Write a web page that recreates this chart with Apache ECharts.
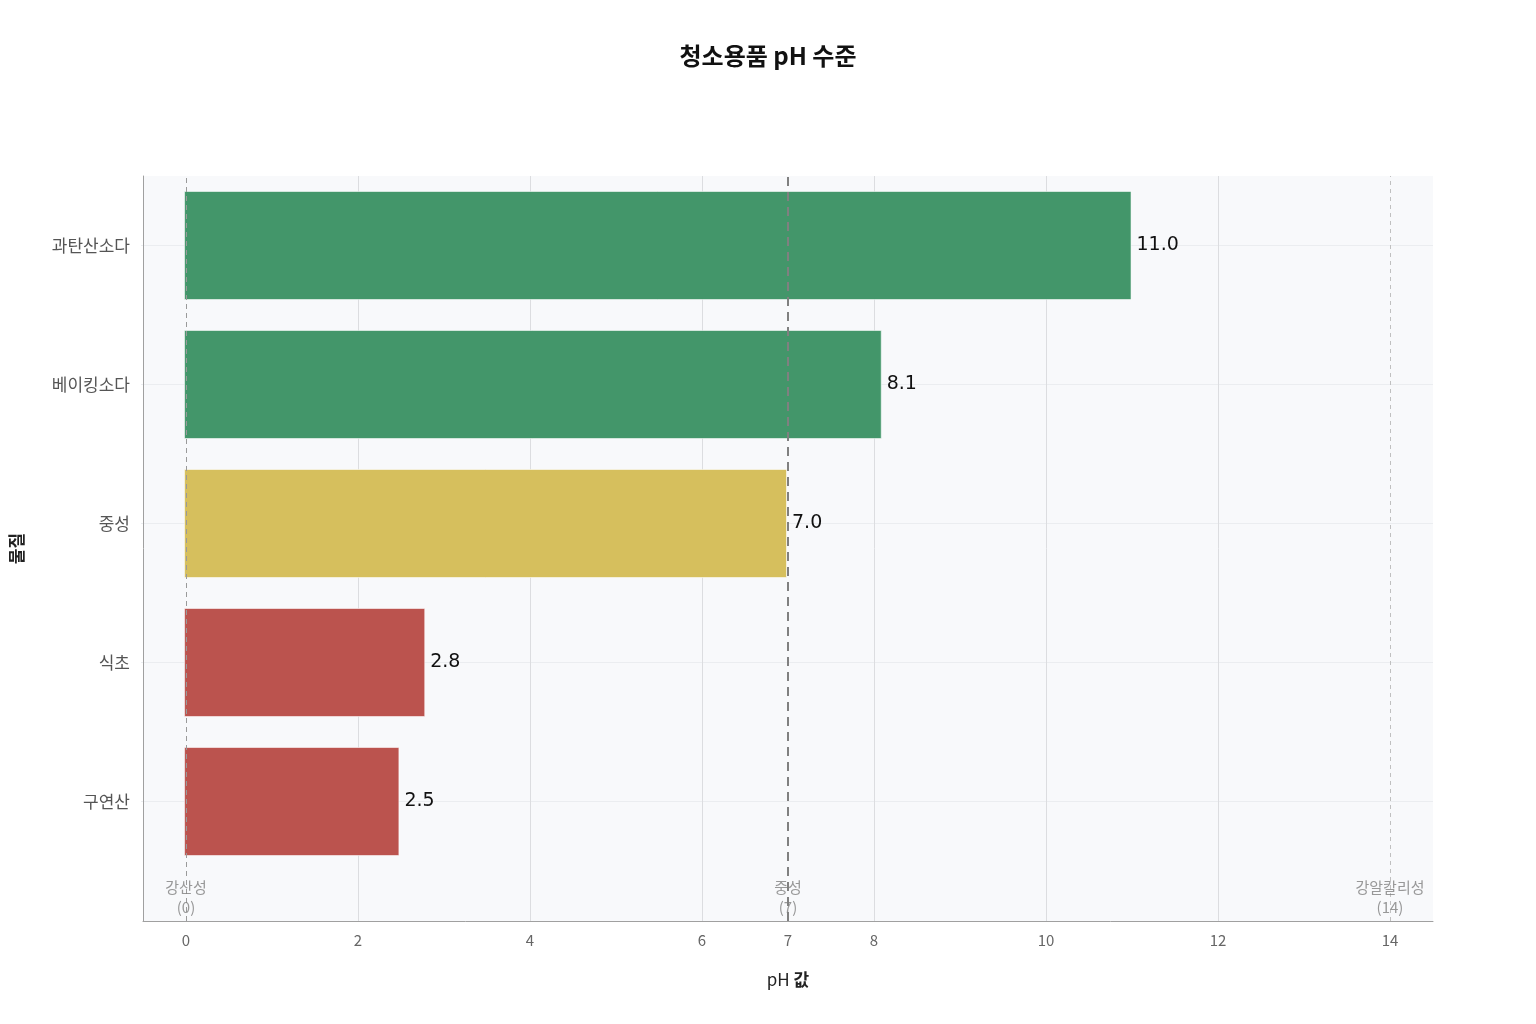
<!DOCTYPE html>
<html><head><meta charset="utf-8">
<script src="https://cdn.jsdelivr.net/npm/echarts@6/dist/echarts.min.js"></script>
<style>html,body{margin:0;padding:0;background:#fff}#c{width:1536px;height:1024px}</style>
</head><body><div id="c"></div>
<script>
const categories = ['과탄산소다', '베이킹소다', '중성', '식초', '구연산'];
const phValues = [11.0, 8.1, 7.0, 2.8, 2.5];
const barColors = ['#43966a', '#43966a', '#d6bf5d', '#bb534e', '#bb534e'];
const xTicks = [0, 2, 4, 6, 7, 8, 10, 12, 14];
const gridValues = [2, 4, 6, 8, 10, 12];
const refValues = [0, 7, 14];
const refLabels = ['강산성\n(0)', '중성\n(7)', '강알칼리성\n(14)'];
const refColors = ['#9a9a9a', '#808080', '#c0c0c0'];
const refWidths = [1, 2, 1];
const refDash = [[5, 4], [9, 6], [4, 4]];

const FONT = '"Noto Sans CJK KR", "Noto Sans", sans-serif';
const chart = echarts.init(document.getElementById('c'));
chart.setOption({
  animation: false,
  textStyle: { fontFamily: FONT },
  title: {
    text: '청소용품 pH 수준', left: 'center', top: 39,
    textStyle: { fontSize: 24, fontWeight: 'bold', color: '#111', fontFamily: FONT }
  },
  grid: [
    { left: 141, right: 103, top: 176, bottom: 103, show: true, backgroundColor: '#f8f9fb', borderWidth: 0 },
    { left: 141, right: 103, top: 176, bottom: 153, show: false }
  ],
  xAxis: [
    {
      type: 'value', gridIndex: 0, min: -0.5, max: 14.5,
      axisLine: { show: true, onZero: false, lineStyle: { color: '#a0a0a0', width: 1 } },
      axisTick: { show: false },
      splitLine: { show: false },
      axisLabel: { customValues: xTicks, color: '#666', fontSize: 15, margin: 12, fontFamily: FONT },
      name: '{a|pH }{b|값}', nameLocation: 'middle', nameGap: 50,
      nameTextStyle: {
        rich: {
          a: { fontSize: 17, color: '#222', fontFamily: FONT },
          b: { fontSize: 17, color: '#222', fontWeight: 'bold', fontFamily: FONT }
        }
      }
    },
    { type: 'value', gridIndex: 1, min: -0.5, max: 14.5, show: false, splitLine: { show: false } }
  ],
  yAxis: [
    {
      type: 'value', gridIndex: 0, min: 0, max: 1,
      axisLine: { show: true, onZero: false, lineStyle: { color: '#a0a0a0', width: 1 } },
      axisTick: { show: false }, axisLabel: { show: false }, splitLine: { show: false },
      name: '물질', nameLocation: 'middle', nameRotate: 90, nameGap: 118,
      nameTextStyle: { fontSize: 17, fontWeight: 'bold', color: '#222', fontFamily: FONT }
    },
    {
      type: 'category', gridIndex: 1, data: categories, inverse: true,
      axisLine: { show: false }, axisTick: { show: false },
      axisLabel: { color: '#555', fontSize: 17, margin: 11, fontFamily: FONT },
      splitLine: { show: true, alignWithLabel: true, lineStyle: { color: '#ebedf0', width: 1 } }
    }
  ],
  series: [
    {
      type: 'scatter', xAxisIndex: 0, yAxisIndex: 0, z: 1,
      symbolSize: 0, data: [],
      markLine: {
        silent: true, symbol: 'none', z: 1, animation: false,
        label: { show: false },
        lineStyle: { color: '#dcdde0', width: 1, type: 'solid' },
        data: gridValues.map(v => ({ xAxis: v }))
      }
    },
    {
      type: 'bar', xAxisIndex: 1, yAxisIndex: 1, z: 2,
      barWidth: 109,
      data: phValues.map((v, i) => ({
        value: v,
        itemStyle: { color: barColors[i], borderColor: 'rgba(255,255,255,0.55)', borderWidth: 1 }
      })),
      label: {
        show: true, position: 'right', distance: 5,
        color: '#111', fontSize: 19, fontFamily: '"DejaVu Sans", sans-serif',
        formatter: p => p.value.toFixed(1)
      }
    },
    {
      type: 'scatter', xAxisIndex: 0, yAxisIndex: 0, z: 6,
      symbolSize: 0,
      data: refValues.map((v, i) => ({ value: [v, 0.032], name: refLabels[i] })),
      label: {
        show: true, position: 'inside', formatter: p => p.name,
        color: '#808080', fontSize: 15, lineHeight: 20, align: 'center', fontFamily: FONT
      },
      markLine: {
        silent: true, symbol: 'none', z: 5, animation: false,
        label: { show: false },
        data: refValues.map((v, i) => ({
          xAxis: v,
          lineStyle: { color: refColors[i], width: refWidths[i], type: refDash[i] }
        }))
      }
    }
  ]
});
</script></body></html>
